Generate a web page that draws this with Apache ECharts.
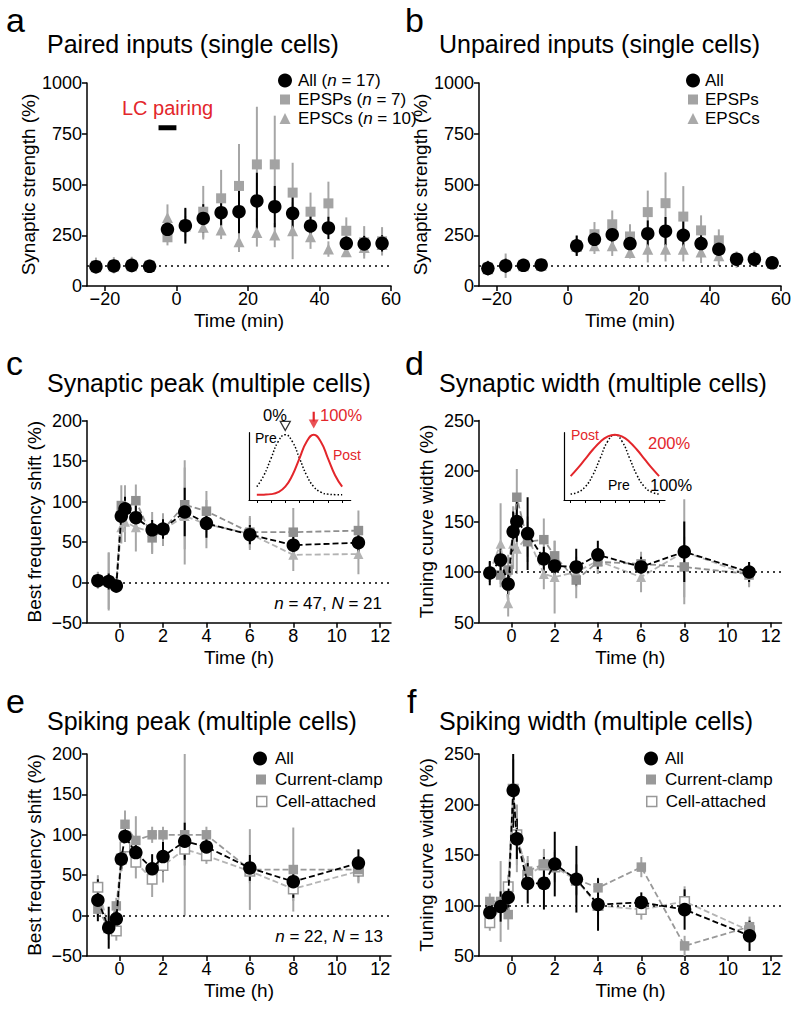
<!DOCTYPE html>
<html><head><meta charset="utf-8">
<script src="https://cdn.jsdelivr.net/npm/echarts@6/dist/echarts.min.js"></script>
<style>html,body{margin:0;padding:0;background:#fff}#c{width:800px;height:1013px}</style>
</head><body><div id="c"></div>
<script>
const FONT = "'Liberation Sans', Arial, Helvetica, sans-serif";

// ---------- Panel a: paired inputs (min) ----------
const tA = [-22.5,-17.5,-12.5,-7.5,-2.5,2.5,7.5,12.5,17.5,22.5,27.5,32.5,37.5,42.5,47.5,52.5,57.5];
const allA    = [95,99,102,97,279,297,333,361,366,419,391,358,296,286,210,207,210];
const allAErr = [30,30,28,25,40,88,70,63,106,139,102,82,54,55,33,40,40];
const epspA    = [100,102,104,100,240,300,366,432,493,599,599,460,366,407,272,215,220];
const epspAErr = [40,40,40,30,40,80,127,140,207,284,240,147,94,107,66,80,70];
const epscA    = [95,98,100,97,338,295,289,276,218,264,251,272,243,182,169,190,205];
const epscAErr = [30,30,30,25,64,50,60,45,50,70,60,140,60,38,25,40,40];
const lcBar = [[-5,780],[0,780]];

// ---------- Panel b: unpaired inputs (min) ----------
const tB = [-22.5,-17.5,-12.5,-7.5,2.5,7.5,12.5,17.5,22.5,27.5,32.5,37.5,42.5,47.5,52.5,57.5];
const allB    = [87,100,102,104,198,230,253,209,258,270,250,209,181,132,132,114];
const allBErr = [35,35,25,25,50,45,50,45,65,70,70,50,40,30,35,25];
const epspB    = [90,100,104,106,200,255,304,244,364,408,342,274,225,130,135,115];
const epspBErr = [35,60,30,25,50,60,68,60,106,152,150,74,54,40,40,30];
const epscB    = [85,100,100,102,195,198,198,165,181,181,181,168,149,130,130,112];
const epscBErr = [30,30,25,25,40,40,50,30,65,60,60,55,50,30,30,25];

// ---------- Panels c-f: time in hours ----------
const tH = [-1,-0.5,-0.15,0.08,0.25,0.75,1.5,2,3,4,6,8,11];
// c: synaptic peak
const allC    = [2,1,-4.5,82,91,80,65,66,87,73,59,46,49];
const allCErr = [8,10,8,12,15,15,12,12,30,18,12,15,15];
const sqC     = [3,2,-3,95,90,101,55,65,96,88,62,62,64];
const sqCErr  = [10,35,10,25,30,20,20,20,55,25,20,30,25];
const triC    = [2,1,-4,68,75,68,62,65,82,72,60,34,35];
const triCErr = [10,36,8,20,25,30,25,20,60,30,20,20,25];
// d: synaptic width
const allD    = [99,112,88,140,150,138,113,106,105,117,105,120,100];
const allDErr = [12,15,10,20,20,36,12,12,18,14,10,30,10];
const sqD     = [100,97,102,140,174,130,132,116,92,110,108,105,98];
const sqDErr  = [10,12,15,25,28,20,21,15,18,12,12,30,12];
const triD    = [100,128,69,128,123,135,98,95,100,111,95,120,97];
const triDErr = [10,40,13,25,25,20,15,36,15,12,15,52,12];
// e: spiking peak
const allE    = [19,-15,-4,70,98,78,58,73,92,85,59,42,65];
const allEErr = [26,26,10,12,15,15,18,18,23,12,16,20,17];
const ccE     = [8,-15,12,70,113,93,100,100,100,100,57,57,57];
const ccEErr  = [10,10,10,15,17,30,10,10,100,10,50,52,15];
const caE     = [35,-15,-19,70,85,66,45,62,82,74,55,33,55];
const caEErr  = [15,15,12,15,15,20,22,21,20,10,15,15,15];
// f: spiking width
const allF    = [93,99,108,214,166,122,122,141,126,101,103,96,70];
const allFErr = [10,15,15,37,20,20,26,32,33,26,10,20,15];
const ccF     = [104,104,91,214,166,134,141,140,126,117.5,138,60,79];
const ccFErr  = [8,40,15,30,33,15,15,15,15,10,10,10,10];
const caF     = [83,98,118.5,215,170,130,140,138,125,100,96,104,75];
const caFErr  = [8,10,12,30,30,15,15,15,15,10,10,15,10];

// ---------- tick labels ----------
const ticksMin = [-20,0,20,40,60];
const ticksH = [0,2,4,6,8,10,12];
const insetTicks = [0,1,2,3,4,5,6];

// ---------- insets (schematic tuning curves) ----------
const insetX = [0,0.5,1,1.5,2,2.5,3,3.5,4,4.5,5,5.5,6];
const preC  = [0.204,0.379,0.638,0.892,1.0,0.892,0.638,0.379,0.204,0.120,0.090,0.082,0.080];
const postC = [0.080,0.082,0.090,0.120,0.204,0.379,0.638,0.892,1.0,0.892,0.638,0.379,0.204];
const preD  = [0.090,0.120,0.204,0.379,0.638,0.892,1.0,0.892,0.638,0.379,0.204,0.120,0.090];
const postD = [0.365,0.491,0.630,0.769,0.889,0.971,1.0,0.971,0.889,0.769,0.630,0.491,0.365];
const preMarkC = [[2,1.133]];
const arrowC = [[4,1.35],[4,1.2]];
const arrowHeadC = [[4,1.165]];

// ================= helpers =================
const minus = v => String(v).replace('-', '\u2212');
const pairs = (t, v) => t.map((x, i) => [x, v[i]]);
const BLACK = '#000', RED = '#e3262b';
const ERRGRAY = '#a6a6a6';

function xAx(gi, min, max, ticks, name) {
  return {gridIndex: gi, type: 'value', min, max,
    axisLine: {show: true, onZero: false, lineStyle: {color: BLACK, width: 1.5}},
    axisTick: {show: true, length: 5, customValues: ticks, lineStyle: {color: BLACK, width: 1.5}},
    axisLabel: {customValues: ticks, fontSize: 18, color: BLACK, margin: 4, fontFamily: FONT, formatter: minus},
    splitLine: {show: false},
    name, nameLocation: 'middle', nameGap: 25,
    nameTextStyle: {fontSize: 19, color: BLACK, fontFamily: FONT}};
}
function yAx(gi, min, max, interval, name) {
  return {gridIndex: gi, type: 'value', min, max, interval,
    axisLine: {show: true, onZero: false, lineStyle: {color: BLACK, width: 1.5}},
    axisTick: {show: true, length: 5, lineStyle: {color: BLACK, width: 1.5}},
    axisLabel: {fontSize: 18, color: BLACK, margin: 5, fontFamily: FONT, formatter: minus},
    splitLine: {show: false},
    name, nameLocation: 'middle', nameGap: 43, nameRotate: 90,
    nameTextStyle: {fontSize: 19, color: BLACK, fontFamily: FONT}};
}
function insetX_(gi, min, max) {
  return {gridIndex: gi, type: 'value', min, max,
    axisLine: {show: true, onZero: false, lineStyle: {color: BLACK, width: 1.2}},
    axisTick: {show: true, length: 3, customValues: insetTicks, lineStyle: {color: BLACK, width: 1}},
    axisLabel: {show: false}, splitLine: {show: false}};
}
function insetY_(gi) {
  return {gridIndex: gi, type: 'value', min: 0, max: 1.03,
    axisLine: {show: true, onZero: false, lineStyle: {color: BLACK, width: 1.2}},
    axisTick: {show: false}, axisLabel: {show: false}, splitLine: {show: false}};
}
function errS(gi, t, v, e, color, z) {
  return {type: 'custom', xAxisIndex: gi, yAxisIndex: gi, z, silent: true, clip: true,
    data: t.map((x, i) => [x, v[i] - e[i], v[i] + e[i]]),
    encode: {x: 0, y: [1, 2]},
    renderItem: (params, api) => {
      const p1 = api.coord([api.value(0), api.value(1)]);
      const p2 = api.coord([api.value(0), api.value(2)]);
      return {type: 'line', shape: {x1: p1[0], y1: p1[1], x2: p2[0], y2: p2[1]},
        style: {stroke: color, lineWidth: 2}};
    }};
}
function refLine(val) {
  return {silent: true, symbol: ['none', 'none'], label: {show: false},
    lineStyle: {type: [2, 4], color: BLACK, width: 1.6}, data: [{yAxis: val}]};
}
function scat(gi, name, t, v, symbol, size, color, z, extra) {
  return Object.assign({type: 'scatter', name, xAxisIndex: gi, yAxisIndex: gi, z,
    data: pairs(t, v), symbol, symbolSize: size, itemStyle: {color, opacity: 1}}, extra || {});
}
function lineS(gi, name, t, v, symbol, size, color, lineColor, z, itemStyle, extra) {
  return Object.assign({type: 'line', name, xAxisIndex: gi, yAxisIndex: gi, z,
    data: pairs(t, v), symbol, symbolSize: size, showSymbol: true, showAllSymbol: true,
    lineStyle: {type: [6, 3], width: 1.8, color: lineColor},
    itemStyle: itemStyle || {color, opacity: 1}}, extra || {});
}
function legendItem(name, icon, size, cx, cy, textX, text, itemStyle) {
  const left = cx - size / 2;
  const pad = textX - (left + size + 5);
  const d = {name, icon};
  if (itemStyle) d.itemStyle = itemStyle;
  return {show: true, selectedMode: false, orient: 'vertical', left, top: cy - 7, padding: 0,
    itemWidth: size, itemHeight: size, data: [d], formatter: () => text,
    textStyle: {fontFamily: FONT, fontSize: 17, color: BLACK, lineHeight: 14, padding: [0, 0, 0, pad],
      rich: {i: {fontStyle: 'italic', fontSize: 17, fontFamily: FONT, color: BLACK, lineHeight: 14}}}};
}
function txt(x, y, text, size, color, align, extra) {
  return Object.assign({type: 'text', x, y, silent: true,
    style: {text, fontSize: size, fontFamily: FONT, fill: color, align: align || 'left', verticalAlign: 'middle'}}, extra || {});
}
function richTxt(x, y, text, size, align) {
  return {type: 'text', x, y, silent: true,
    style: {text, fontSize: size, fontFamily: FONT, fill: BLACK, align, verticalAlign: 'middle',
      rich: {i: {fontStyle: 'italic', fontSize: size, fontFamily: FONT, fill: BLACK}}}};
}

const GA = '#a3a3a3', TA = '#a9a9a9';     // a,b gray marks
const SQ = '#8f8f8f', TR = '#b3b3b3';     // c,d gray marks
const CC = '#999999', CA = '#b5b5b5';     // e,f

const option = {
  animation: false, backgroundColor: '#fff', textStyle: {fontFamily: FONT},
  grid: [
    {left: 87, top: 83, width: 304, height: 203},
    {left: 479, top: 83, width: 302, height: 203},
    {left: 87, top: 420.7, width: 304, height: 202},
    {left: 479, top: 420.5, width: 302.5, height: 202},
    {left: 87, top: 754, width: 304, height: 202},
    {left: 479, top: 754, width: 303, height: 202},
    {left: 249, top: 432.7, width: 101.7, height: 67.3},
    {left: 564, top: 432.7, width: 101, height: 67.3}
  ],
  xAxis: [
    xAx(0, -25, 60, ticksMin, 'Time (min)'),
    xAx(1, -25, 60, ticksMin, 'Time (min)'),
    xAx(2, -1.5, 12.5, ticksH, 'Time (h)'),
    xAx(3, -1.5, 12.5, ticksH, 'Time (h)'),
    xAx(4, -1.5, 12.5, ticksH, 'Time (h)'),
    xAx(5, -1.5, 12.5, ticksH, 'Time (h)'),
    insetX_(6, -0.55, 6.6),
    insetX_(7, -0.45, 6.4)
  ],
  yAxis: [
    yAx(0, 0, 1000, 250, 'Synaptic strength (%)'),
    yAx(1, 0, 1000, 250, 'Synaptic strength (%)'),
    yAx(2, -50, 200, 50, 'Best frequency shift (%)'),
    yAx(3, 50, 250, 50, 'Tuning curve width (%)'),
    yAx(4, -50, 200, 50, 'Best frequency shift (%)'),
    yAx(5, 50, 250, 50, 'Tuning curve width (%)'),
    insetY_(6), insetY_(7)
  ],
  legend: [
    legendItem('a_all', 'circle', 14, 285, 79, 298, 'All ({i|n} = 17)'),
    legendItem('a_epsp', 'rect', 10, 285, 98, 298, 'EPSPs ({i|n} = 7)'),
    legendItem('a_epsc', 'triangle', 11, 285, 117, 298, 'EPSCs ({i|n} = 10)'),
    legendItem('b_all', 'circle', 14, 693, 79, 705, 'All'),
    legendItem('b_epsp', 'rect', 10, 693, 98, 705, 'EPSPs'),
    legendItem('b_epsc', 'triangle', 11, 693, 117, 705, 'EPSCs'),
    legendItem('e_all', 'circle', 14, 260, 757, 275, 'All'),
    legendItem('e_cc', 'rect', 10, 261, 778, 275, 'Current-clamp'),
    legendItem('e_ca', 'rect', 10, 261, 800, 275, 'Cell-attached', {color: '#fff', borderColor: CC, borderWidth: 1.5}),
    legendItem('f_all', 'circle', 14, 651, 757, 665, 'All'),
    legendItem('f_cc', 'rect', 10, 651, 778, 665, 'Current-clamp'),
    legendItem('f_ca', 'rect', 10, 651, 800, 665, 'Cell-attached', {color: '#fff', borderColor: CC, borderWidth: 1.5})
  ],
  series: [
    // ---- a ----
    errS(0, tA, epscA, epscAErr, ERRGRAY, 1),
    errS(0, tA, epspA, epspAErr, ERRGRAY, 1),
    errS(0, tA, allA, allAErr, BLACK, 2),
    scat(0, 'a_epsc', tA, epscA, 'triangle', 11, TA, 3, {markLine: refLine(100)}),
    scat(0, 'a_epsp', tA, epspA, 'rect', 10, GA, 3),
    scat(0, 'a_all', tA, allA, 'circle', 13.5, BLACK, 4),
    {type: 'line', xAxisIndex: 0, yAxisIndex: 0, data: lcBar, symbol: 'none', silent: true, z: 4,
     lineStyle: {color: BLACK, width: 5, cap: 'butt'}},
    // ---- b ----
    errS(1, tB, epscB, epscBErr, ERRGRAY, 1),
    errS(1, tB, epspB, epspBErr, ERRGRAY, 1),
    errS(1, tB, allB, allBErr, BLACK, 2),
    scat(1, 'b_epsc', tB, epscB, 'triangle', 11, TA, 3, {markLine: refLine(100)}),
    scat(1, 'b_epsp', tB, epspB, 'rect', 10, GA, 3),
    scat(1, 'b_all', tB, allB, 'circle', 13.5, BLACK, 4),
    // ---- c ----
    errS(2, tH, triC, triCErr, ERRGRAY, 1),
    errS(2, tH, sqC, sqCErr, ERRGRAY, 1),
    errS(2, tH, allC, allCErr, BLACK, 2),
    lineS(2, 'c_tri', tH, triC, 'triangle', 10, TR, TR, 3, null, {markLine: refLine(0)}),
    lineS(2, 'c_sq', tH, sqC, 'rect', 9.5, SQ, SQ, 3),
    lineS(2, 'c_all', tH, allC, 'circle', 13.5, BLACK, BLACK, 4),
    // ---- d ----
    errS(3, tH, triD, triDErr, ERRGRAY, 1),
    errS(3, tH, sqD, sqDErr, ERRGRAY, 1),
    errS(3, tH, allD, allDErr, BLACK, 2),
    lineS(3, 'd_tri', tH, triD, 'triangle', 10, TR, TR, 3, null, {markLine: refLine(100)}),
    lineS(3, 'd_sq', tH, sqD, 'rect', 9.5, SQ, SQ, 3),
    lineS(3, 'd_all', tH, allD, 'circle', 13.5, BLACK, BLACK, 4),
    // ---- e ----
    errS(4, tH, caE, caEErr, ERRGRAY, 1),
    errS(4, tH, ccE, ccEErr, ERRGRAY, 1),
    errS(4, tH, allE, allEErr, BLACK, 2),
    lineS(4, 'e_ca', tH, caE, 'rect', 9.5, '#fff', CA, 3, {color: '#fff', borderColor: CC, borderWidth: 1.5}, {markLine: refLine(0)}),
    lineS(4, 'e_cc', tH, ccE, 'rect', 9.5, CC, CC, 3),
    lineS(4, 'e_all', tH, allE, 'circle', 13.5, BLACK, BLACK, 4),
    // ---- f ----
    errS(5, tH, caF, caFErr, ERRGRAY, 1),
    errS(5, tH, ccF, ccFErr, ERRGRAY, 1),
    errS(5, tH, allF, allFErr, BLACK, 2),
    lineS(5, 'f_ca', tH, caF, 'rect', 9.5, '#fff', CA, 3, {color: '#fff', borderColor: CC, borderWidth: 1.5}, {markLine: refLine(100)}),
    lineS(5, 'f_cc', tH, ccF, 'rect', 9.5, CC, CC, 3),
    lineS(5, 'f_all', tH, allF, 'circle', 13.5, BLACK, BLACK, 4),
    // ---- inset c ----
    {type: 'line', xAxisIndex: 6, yAxisIndex: 6, data: pairs(insetX, preC), smooth: true, symbol: 'none', silent: true,
     lineStyle: {color: BLACK, width: 1.5, type: [1.5, 2]}},
    {type: 'line', xAxisIndex: 6, yAxisIndex: 6, data: pairs(insetX, postC), smooth: true, symbol: 'none', silent: true,
     lineStyle: {color: RED, width: 2}},
    {type: 'scatter', xAxisIndex: 6, yAxisIndex: 6, data: preMarkC, symbol: 'triangle', symbolRotate: 180, symbolSize: [10, 9], clip: false, silent: true,
     itemStyle: {color: '#fff', borderColor: BLACK, borderWidth: 1.3}},
    {type: 'line', xAxisIndex: 6, yAxisIndex: 6, data: arrowC, symbol: 'none', clip: false, silent: true,
     lineStyle: {color: RED, width: 2.2}},
    {type: 'scatter', xAxisIndex: 6, yAxisIndex: 6, data: arrowHeadC, symbol: 'triangle', symbolRotate: 180, symbolSize: [10, 9], clip: false, silent: true,
     itemStyle: {color: RED}},
    // ---- inset d ----
    {type: 'line', xAxisIndex: 7, yAxisIndex: 7, data: pairs(insetX, preD), smooth: true, symbol: 'none', silent: true,
     lineStyle: {color: BLACK, width: 1.5, type: [1.5, 2]}},
    {type: 'line', xAxisIndex: 7, yAxisIndex: 7, data: pairs(insetX, postD), smooth: true, symbol: 'none', silent: true,
     lineStyle: {color: RED, width: 2}}
  ],
  graphic: [
    txt(6, 20, 'a', 34, BLACK), txt(405, 20, 'b', 34, BLACK),
    txt(6, 363, 'c', 34, BLACK), txt(405, 363, 'd', 34, BLACK),
    txt(6, 701, 'e', 34, BLACK), txt(407, 701, 'f', 34, BLACK),
    txt(47, 44, 'Paired inputs (single cells)', 25, BLACK),
    txt(439, 44, 'Unpaired inputs (single cells)', 25, BLACK),
    txt(47, 382.5, 'Synaptic peak (multiple cells)', 25, BLACK),
    txt(439, 382.5, 'Synaptic width (multiple cells)', 25, BLACK),
    txt(47, 721, 'Spiking peak (multiple cells)', 25, BLACK),
    txt(439, 721, 'Spiking width (multiple cells)', 25, BLACK),
    txt(122, 108, 'LC pairing', 20, RED),
    richTxt(382, 603, '{i|n} = 47, {i|N} = 21', 17, 'right'),
    richTxt(383, 936, '{i|n} = 22, {i|N} = 13', 17, 'right'),
    // inset c labels
    txt(263, 415, '0%', 16.5, BLACK),
    txt(320, 415, '100%', 16.5, RED),
    txt(255, 438, 'Pre', 14, BLACK),
    txt(333, 455, 'Post', 14, RED),
    // inset d labels
    txt(571, 435, 'Post', 14, RED),
    txt(648, 443, '200%', 16.5, RED),
    txt(608, 485, 'Pre', 14, BLACK),
    txt(650, 485, '100%', 16.5, BLACK)
  ]
};

const chart = echarts.init(document.getElementById('c'), null, {renderer: 'svg', width: 800, height: 1013});
chart.setOption(option);
</script></body></html>
